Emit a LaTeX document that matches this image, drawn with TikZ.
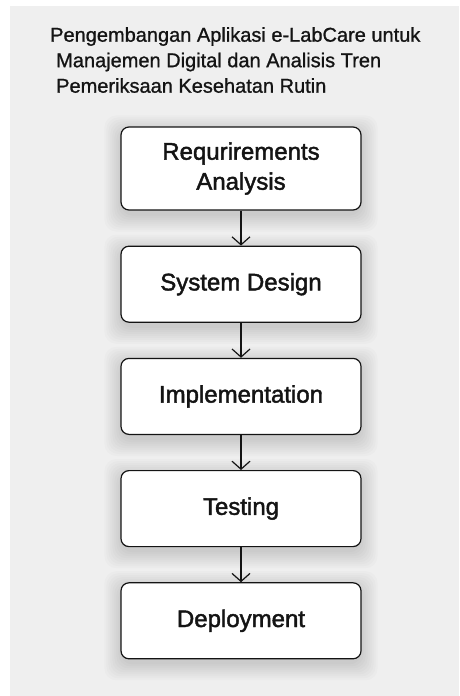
\documentclass[tikz,border=0pt]{standalone}
\usepackage{fontspec}
\setmainfont{Liberation Sans}
\usetikzlibrary{positioning,arrows.meta,backgrounds}
\definecolor{bggray}{HTML}{EFEFEF}
\definecolor{inkblack}{HTML}{141414}

\begin{document}
\begin{tikzpicture}[x=1pt,y=1pt,
  stage/.style={rectangle,rounded corners=8pt,draw=inkblack,line width=1.2pt,fill=white,
    text=inkblack,minimum width=240pt,minimum height=76pt,align=center,
    font=\fontsize{24}{30}\selectfont\addfontfeature{FakeBold=1.8}},
  halo/.style={black,opacity=0.016,rounded corners=12pt},
  flow/.style={-{Straight Barb[length=8pt,width=18pt,line width=1.2pt]},draw=inkblack,line width=1.2pt},
  node distance=35pt]
\useasboundingbox (0,0) rectangle (459,-696);
\node [anchor=north west,inner sep=0pt,align=left,text=inkblack,
  font=\fontsize{20}{25.5}\selectfont\addfontfeature{FakeBold=1}] (title) at (50,-27)
  {Pengembangan Aplikasi e-LabCare untuk\\
   \hspace*{6pt}Manajemen Digital dan Analisis Tren\\
   \hspace*{6pt}Pemeriksaan Kesehatan Rutin};
\node [stage,minimum height=83pt] (req) at (241,-168.5) {Requrirements\\Analysis};
\node [stage,below=of req] (design) {System Design};
\node [stage,below=of design] (impl) {Implementation};
\node [stage,below=of impl] (test) {Testing};
\node [stage,below=of test] (deploy) {Deployment};
\begin{scope}[on background layer]
\fill[bggray] (10,-6) rectangle (459,-696);
\foreach \n in {req,design,impl,test,deploy}
  \foreach \r in {0,2,...,16}
    \fill[halo] ([xshift=-\r pt,yshift=-\r pt-5pt]\n.south west) rectangle ([xshift=\r pt,yshift=\r pt-5pt]\n.north east);
\end{scope}
\draw [flow] (req) -- (design);
\draw [flow] (design) -- (impl);
\draw [flow] (impl) -- (test);
\draw [flow] (test) -- (deploy);
\end{tikzpicture}
\end{document}
